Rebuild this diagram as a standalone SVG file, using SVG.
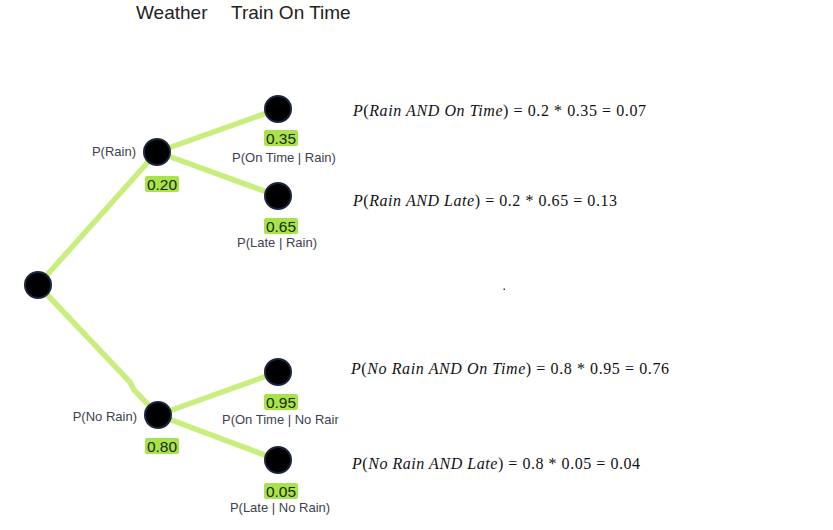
<svg xmlns="http://www.w3.org/2000/svg" width="833" height="530" viewBox="0 0 833 530">
<style>
.edge{stroke:#c8ef7e;stroke-width:5.5;stroke-linecap:round;fill:none}
.node{fill:#000;stroke:#1c2540;stroke-width:2}
.lbl{font-family:"Liberation Sans",Arial,sans-serif;font-size:13px;fill:#3d4150}
.box{fill:#a9e34b}
.num{font-family:"Liberation Sans",Arial,sans-serif;font-size:15.5px;fill:#1a2a10;text-anchor:middle}
.head{font-family:"Liberation Sans",Arial,sans-serif;font-size:19px;fill:#222}
.math{font-family:"Liberation Serif","Times New Roman",serif;font-size:16px;fill:#111}
.it{font-style:italic}
</style>
<defs><clipPath id="c1"><rect x="200" y="400" width="138.5" height="30"/></clipPath></defs>
<rect width="833" height="530" fill="#fff"/>
<text class="head" x="136" y="19">Weather</text>
<text class="head" x="231" y="19">Train On Time</text>
<g id="connectors">
<line class="edge" x1="38" y1="285" x2="157" y2="152"/>
<polyline class="edge" points="38,285 130,382 134,390 158,415"/>
<line class="edge" x1="157" y1="152" x2="278" y2="109"/>
<line class="edge" x1="157" y1="152" x2="278" y2="196"/>
<line class="edge" x1="158" y1="415" x2="278" y2="372"/>
<line class="edge" x1="158" y1="415" x2="278" y2="460"/>
</g>
<g id="root"><circle class="node" cx="38" cy="285" r="13"/></g>
<g id="rain">
<circle class="node" cx="157" cy="152" r="13"/>
<text class="lbl" x="136" y="156" text-anchor="end">P(Rain)</text>
<rect class="box" x="145" y="176" width="34" height="16" rx="2"/>
<text class="num" x="162" y="190">0.20</text>
</g>
<g id="norain">
<circle class="node" cx="158" cy="415" r="13"/>
<text class="lbl" x="137" y="421" text-anchor="end">P(No Rain)</text>
<rect class="box" x="145" y="438" width="34" height="16" rx="2"/>
<text class="num" x="162" y="452">0.80</text>
</g>
<g id="rain-ontime">
<circle class="node" cx="278" cy="109" r="13"/>
<rect class="box" x="264" y="130" width="34" height="16" rx="2"/>
<text class="num" x="281" y="144">0.35</text>
<text class="lbl" x="284" y="162" text-anchor="middle">P(On Time | Rain)</text>
</g>
<g id="rain-late">
<circle class="node" cx="278" cy="196" r="13"/>
<rect class="box" x="264" y="218" width="34" height="16" rx="2"/>
<text class="num" x="281" y="232">0.65</text>
<text class="lbl" x="277" y="247" text-anchor="middle">P(Late | Rain)</text>
</g>
<g id="norain-ontime">
<circle class="node" cx="278" cy="372" r="13"/>
<rect class="box" x="264" y="394" width="34" height="16" rx="2"/>
<text class="num" x="281" y="408">0.95</text>
<text class="lbl" x="222" y="424" clip-path="url(#c1)">P(On Time | No Rain)</text>
</g>
<g id="norain-late">
<circle class="node" cx="278" cy="460" r="13"/>
<rect class="box" x="264" y="483" width="34" height="16" rx="2"/>
<text class="num" x="281" y="497">0.05</text>
<text class="lbl" x="280" y="512" text-anchor="middle">P(Late | No Rain)</text>
</g>
<g id="formulas">
<text class="math" x="353" y="116" textLength="293" lengthAdjust="spacing"><tspan class="it">P</tspan>(<tspan class="it">Rain AND On Time</tspan>) = 0.2 * 0.35 = 0.07</text>
<text class="math" x="353" y="206" textLength="264" lengthAdjust="spacing"><tspan class="it">P</tspan>(<tspan class="it">Rain AND Late</tspan>) = 0.2 * 0.65 = 0.13</text>
<text class="math" x="351" y="374" textLength="318" lengthAdjust="spacing"><tspan class="it">P</tspan>(<tspan class="it">No Rain AND On Time</tspan>) = 0.8 * 0.95 = 0.76</text>
<text class="math" x="352" y="469" textLength="288" lengthAdjust="spacing"><tspan class="it">P</tspan>(<tspan class="it">No Rain AND Late</tspan>) = 0.8 * 0.05 = 0.04</text>
</g>
<rect x="503.5" y="288.5" width="1.5" height="1.5" fill="#333"/>
</svg>
